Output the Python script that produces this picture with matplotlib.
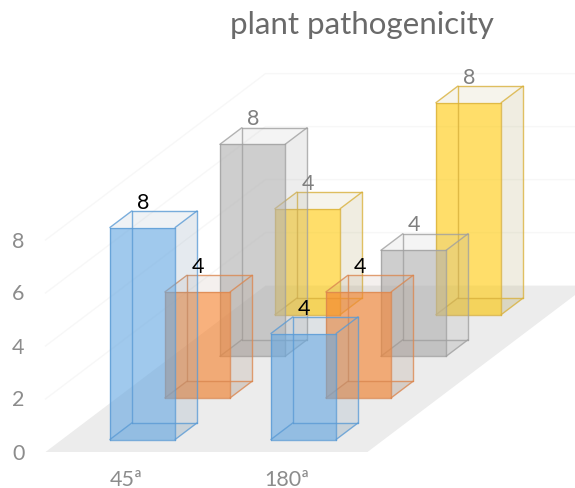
import matplotlib
matplotlib.use("Agg")
import matplotlib.pyplot as plt
from matplotlib.patches import Polygon

plt.rcParams["font.family"] = ["Lato", "DejaVu Sans"]

categories = ["45ª", "180ª"]
tick_values = [0, 2, 4, 6, 8]
series_a = [8, 4]
series_b = [4, 4]
series_c = [8, 4]
series_d = [4, 8]

# back row first so the front rows paint over it
# row, values, face, side faces, edges, label colour
rows = [
    (3, series_d, "#FFCB0F", "#B5A76A", "#D9B13C", "#7F7F7F"),
    (2, series_c, "#B0B0B0", "#A5A5A5", "#A0A0A0", "#7F7F7F"),
    (1, series_b, "#F5822E", "#A58A78", "#DB8750", "#000000"),
    (0, series_a, "#66A8E2", "#7F9AB3", "#5B9BD5", "#000000"),
]

# oblique projection, in pixels
ORIGIN_X, ORIGIN_Y = 45.5, 453
CAT_STEP = 161
DEPTH_DX, DEPTH_DY = 55, 41.6
UNIT_Y = 26.5
BAR_W = 0.405
BAR_D = 0.4
N_ROWS = 4


def project(cat, depth, value):
    return (ORIGIN_X + CAT_STEP * cat + DEPTH_DX * depth,
            ORIGIN_Y - UNIT_Y * value - DEPTH_DY * depth)


def draw_bar(ax, cat, row, value, color, side, edge_color, zorder):
    x0 = cat + (1 - BAR_W) / 2
    x1 = x0 + BAR_W
    d0 = row + (1 - BAR_D) / 2
    d1 = d0 + BAR_D
    p = {
        "fbl": project(x0, d0, 0), "fbr": project(x1, d0, 0),
        "ftl": project(x0, d0, value), "ftr": project(x1, d0, value),
        "bbl": project(x0, d1, 0), "bbr": project(x1, d1, 0),
        "btl": project(x0, d1, value), "btr": project(x1, d1, value),
    }
    # faces, rear ones first
    ax.add_patch(Polygon([p["fbl"], p["fbr"], p["bbr"], p["bbl"]], fc=side,
                         alpha=0.14, ec="none", zorder=zorder))
    ax.add_patch(Polygon([p["fbr"], p["bbr"], p["btr"], p["ftr"]], fc=side,
                         alpha=0.2, ec="none", zorder=zorder))
    ax.add_patch(Polygon([p["ftl"], p["ftr"], p["btr"], p["btl"]], fc=side,
                         alpha=0.12, ec="none", zorder=zorder))
    ax.add_patch(Polygon([p["fbl"], p["fbr"], p["ftr"], p["ftl"]], fc=color,
                         alpha=0.62, ec="none", zorder=zorder))
    # wireframe, hidden edges included
    edges = ["fbl fbr", "fbr ftr", "ftr ftl", "ftl fbl", "bbl bbr", "bbr btr",
             "btr btl", "btl bbl", "fbl bbl", "fbr bbr", "ftl btl", "ftr btr"]
    for edge in edges:
        a, b = edge.split()
        ax.plot([p[a][0], p[b][0]], [p[a][1], p[b][1]], color=edge_color,
                lw=1.0, alpha=0.8, solid_capstyle="round", zorder=zorder)


fig = plt.figure(figsize=(5.75, 4.89), dpi=100)
ax = fig.add_axes([0, 0, 1, 1])
ax.set_xlim(0, 575)
ax.set_ylim(489, 0)
ax.set_axis_off()

# floor
n_cats = len(categories)
floor = [project(0, 0, 0), project(n_cats, 0, 0),
         project(n_cats, N_ROWS, 0), project(0, N_ROWS, 0)]
ax.add_patch(Polygon(floor, fc="#ECECEC", ec="none", zorder=1))

# gridlines on the side wall and the back wall
for v in tick_values[1:]:
    pts = [project(0, 0, v), project(0, N_ROWS, v), project(n_cats, N_ROWS, v)]
    ax.plot([q[0] for q in pts], [q[1] for q in pts], color="#F7F7F7", lw=1,
            zorder=0)

# bars
for n, (row, values, color, side, edge_color, label_color) in enumerate(rows):
    for cat, value in enumerate(values):
        draw_bar(ax, cat, row, value, color, side, edge_color, 2 + n)

# value labels sit above the bars
for n, (row, values, color, side, edge_color, label_color) in enumerate(rows):
    for cat, value in enumerate(values):
        px, py = project(cat + 0.5, row + (1 - BAR_D) / 2, value)
        ax.text(px + 1, py - 26, str(value), color=label_color, fontsize=15.5,
                ha="center", va="center", zorder=10)

for v in tick_values:
    px, py = project(0, 0, v)
    ax.text(px - 27, py + 0.5, str(v), color="#8C8C8C", fontsize=15.5,
            ha="center", va="center")

for i, cat in enumerate(categories):
    px, py = project(i + 0.5, 0, 0)
    ax.text(px, py + 27, cat, color="#8C8C8C", fontsize=15.5, ha="center",
            va="center")

ax.text(362, 25, "plant pathogenicity", color="#6A6A6A", fontsize=22.5,
        ha="center", va="center")

fig.savefig("out.png", dpi=100)
